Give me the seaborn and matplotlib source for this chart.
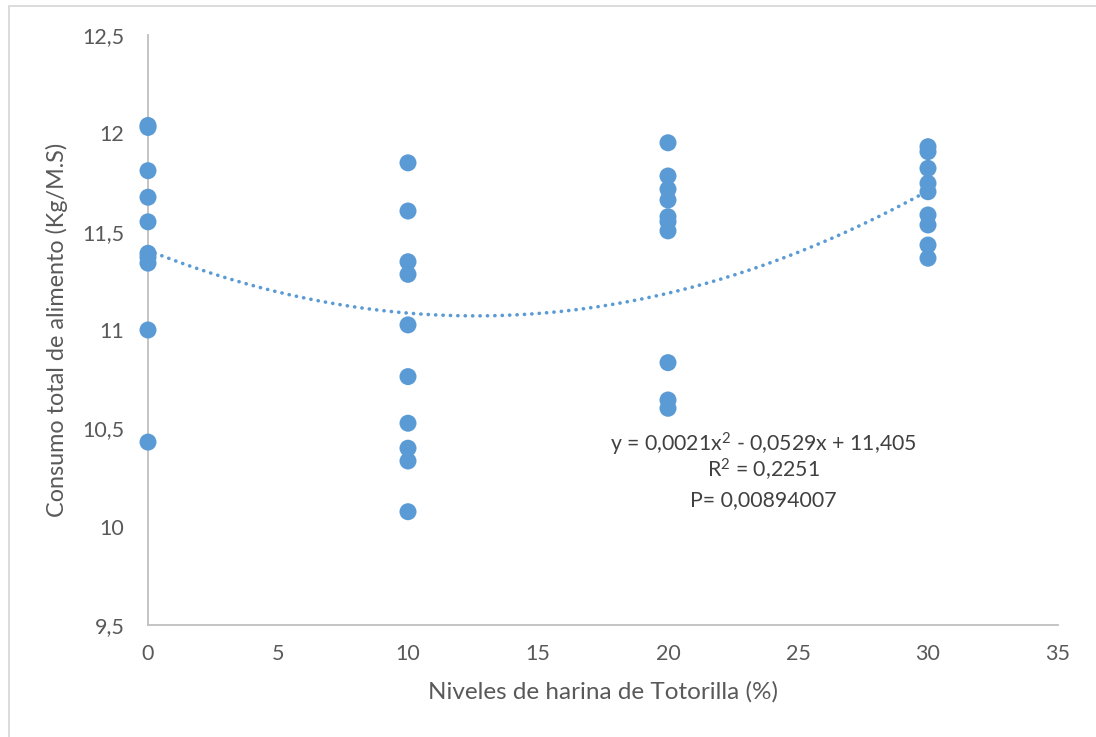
import numpy as np
import pandas as pd
import matplotlib
matplotlib.use("Agg")
import matplotlib.pyplot as plt
import seaborn as sns
from matplotlib.patches import Rectangle

# ---- data ----
niveles_0 = [12.04, 12.03, 11.81, 11.675, 11.55, 11.39, 11.37, 11.34, 11.00, 10.43]
niveles_10 = [11.85, 11.605, 11.347, 11.283, 11.026, 10.763, 10.526, 10.399, 10.334, 10.076]
niveles_20 = [11.952, 11.783, 11.716, 11.661, 11.576, 11.551, 11.504, 10.834, 10.644, 10.602]
niveles_30 = [11.932, 11.907, 11.822, 11.746, 11.703, 11.585, 11.534, 11.432, 11.365]
x_levels = [0, 10, 20, 30]

trend_coef = [0.0021, -0.0529, 11.405]   # y = a x^2 + b x + c (from chart)
trend_range = [0, 30]

x_ticks = [0, 5, 10, 15, 20, 25, 30, 35]
y_ticks = [9.5, 10, 10.5, 11, 11.5, 12, 12.5]
y_tick_labels = ["9,5", "10", "10,5", "11", "11,5", "12", "12,5"]

eq_lines = ["y = 0,0021x$^{2}$ - 0,0529x + 11,405", "R$^{2}$ = 0,2251", "P= 0,00894007"]

xlabel = "Niveles de harina de Totorilla (%)"
ylabel = "Consumo total de alimento (Kg/M.S)"

# ---- build data frame ----
rows = []
for lvl, vals in zip(x_levels, [niveles_0, niveles_10, niveles_20, niveles_30]):
    for v in vals:
        rows.append({"nivel": lvl, "consumo": v})
df = pd.DataFrame(rows)

sns.set_theme(style="white")
plt.rcParams["font.family"] = ["Lato", "DejaVu Sans"]
plt.rcParams["mathtext.fontset"] = "custom"
plt.rcParams["mathtext.rm"] = "Lato"
plt.rcParams["mathtext.it"] = "Lato"
plt.rcParams["mathtext.default"] = "rm"

blue = "#5B9BD5"
gray_txt = "#595959"
gray_line = "#BFBFBF"

fig = plt.figure(figsize=(10.96, 7.37), dpi=100)
ax = fig.add_axes([148 / 1096, 1 - 625 / 737, (1058 - 148) / 1096, (625 - 35) / 737])

# trend line
xs = np.linspace(trend_range[0], trend_range[1], 200)
ys = np.polyval(trend_coef, xs)
ax.plot(xs, ys, color=blue, linewidth=2.6, linestyle=(0, (0.05, 2.0)),
        dash_capstyle="round", solid_capstyle="round", zorder=2)

sns.scatterplot(data=df, x="nivel", y="consumo", ax=ax, color=blue, s=150,
                edgecolor="none", linewidth=0, zorder=3, clip_on=False)

ax.set_xlim(0, 35)
ax.set_ylim(9.5, 12.5)
ax.set_xticks(x_ticks)
ax.set_xticklabels([str(t) for t in x_ticks])
ax.set_yticks(y_ticks)
ax.set_yticklabels(y_tick_labels)
ax.tick_params(axis="both", length=0, labelsize=15.5, labelcolor=gray_txt)
ax.tick_params(axis="x", pad=14)
ax.tick_params(axis="y", pad=17)

for s in ["top", "right"]:
    ax.spines[s].set_visible(False)
for s in ["left", "bottom"]:
    ax.spines[s].set_color(gray_line)
    ax.spines[s].set_linewidth(1.3)

ax.set_xlabel(xlabel, fontsize=17.5, color=gray_txt, labelpad=12)
ax.set_ylabel(ylabel, fontsize=16.8, color=gray_txt, labelpad=10)

for line, base_px in zip(eq_lines, [451, 478, 506]):
    ax.text(763 / 1096, 1 - base_px / 737, line, transform=fig.transFigure,
            ha="center", va="baseline", fontsize=15.3, color="#404040")

# chart border
fig.patches.append(Rectangle((8.5 / 1096, -0.1), 1.2, (737 - 6) / 737 + 0.1,
                             transform=fig.transFigure, fill=False,
                             edgecolor="#D9D9D9", linewidth=1.3))

fig.savefig("out.png", dpi=100, facecolor="white")
